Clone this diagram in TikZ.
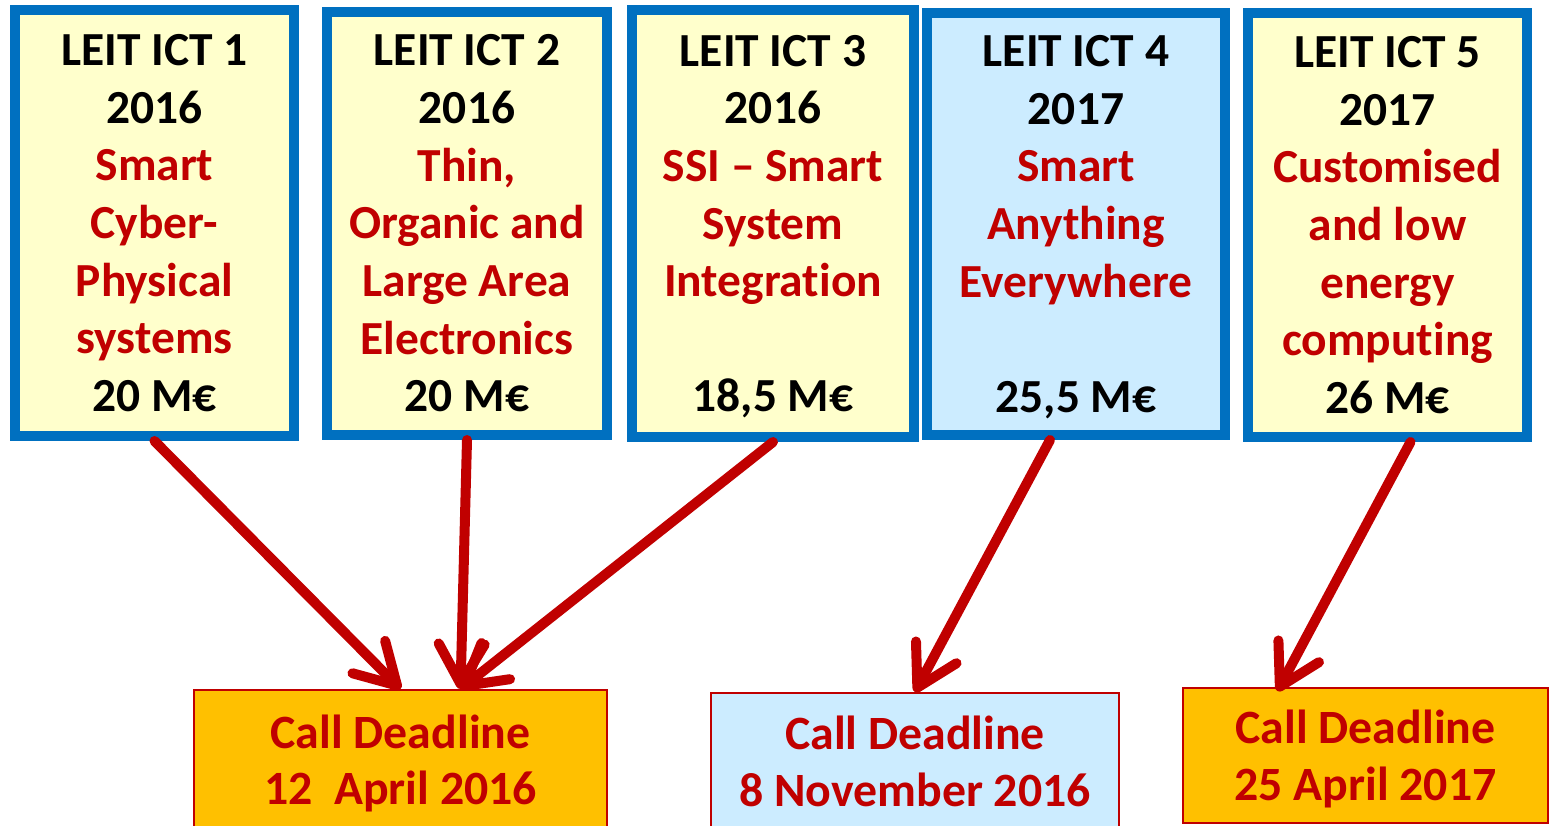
\documentclass[tikz,border=0pt]{standalone}
\usepackage{fontspec}
\setmainfont{Carlito}[Ligatures=NoCommon]
\usepackage{xcolor}
\usetikzlibrary{arrows.meta}

\definecolor{ictblue}{HTML}{0070C0}
\definecolor{ictred}{HTML}{C00000}
\definecolor{ictyellow}{HTML}{FFFFCC}
\definecolor{ictsky}{HTML}{CCECFF}
\definecolor{ictorange}{HTML}{FFC000}
\newcommand{\rd}[1]{\textcolor{ictred}{#1}}
\newcommand{\nodepth}[1]{\raisebox{0pt}[\height][0pt]{#1}}
\newcommand{\sink}[1]{\raisebox{-0.35mm}[\height][\depth]{#1}}

\begin{document}
\begin{tikzpicture}[x=1cm, y=-1cm,
    topic/.style={draw=ictblue, line width=1mm, fill=ictyellow, inner sep=0pt,
        align=center, font=\bfseries\fontsize{13.5}{16.4}\selectfont},
    deadline/.style={draw=ictred, line width=0.2mm, fill=ictorange, inner sep=0pt,
        align=center, text=ictred, font=\bfseries\fontsize{13.6}{16.2}\selectfont},
    callarrow/.style={draw=ictred, line width=1mm, line cap=round,
        -{Straight Barb[round, length=4mm, width=4.6mm]}}]
        \clip (0,0) rectangle (15.5,8.25);
        \useasboundingbox (0,0) rectangle (15.5,8.25);

        % work programme topics
        \node[topic, minimum width=2.79cm, minimum height=4.26cm] (t1) at (1.545,2.23)
            {LEIT ICT 1\\2016\\\rd{Smart}\\\rd{Cyber-}\\\rd{Physical}\\\rd{systems}\\20 M€};
        \node[topic, minimum width=2.80cm, minimum height=4.23cm] (t2) at (4.67,2.235)
            {LEIT ICT 2\\2016\\\rd{Thin,}\\\rd{Organic and}\\\rd{Large Area}\\\rd{Electronics}\\20 M€};
        \node[topic, minimum width=2.82cm, minimum height=4.27cm] (t3) at (7.73,2.235)
            {LEIT ICT 3\\2016\\\rd{SSI -- Smart}\\\rd{System}\\\rd{Integration}\\\mbox{}\\\nodepth{18,5 M€}};
        \node[topic, fill=ictsky, minimum width=2.98cm, minimum height=4.22cm] (t4) at (10.76,2.24)
            {LEIT ICT 4\\2017\\\rd{Smart}\\\rd{Anything}\\\rd{Everywhere}\\\mbox{}\\\nodepth{25,5 M€}};
        \node[topic, minimum width=2.79cm, minimum height=4.24cm] (t5) at (13.875,2.25)
            {LEIT ICT 5\\2017\\\rd{Customised}\\\rd{and low}\\\rd{energy}\\\rd{computing}\\26 M€};

        % deadlines
        \node[deadline, minimum width=4.13cm, minimum height=1.40cm] (d1) at (4.005,7.60)
            {\sink{Call Deadline}\\\sink{12\ \ April 2016}};
        \node[deadline, fill=ictsky, minimum width=4.08cm, minimum height=1.37cm] (d2) at (9.15,7.615)
            {Call Deadline\\8 November 2016};
        \node[deadline, minimum width=3.65cm, minimum height=1.35cm] (d3) at (13.655,7.555)
            {\sink{Call Deadline}\\\sink{25 April 2017}};

        \draw[callarrow] (t1.south) -- (d1.north);
        \draw[callarrow] (t2.south) -- ([xshift=6mm]d1.north);
        \draw[callarrow] (t3.south) -- ([xshift=6mm]d1.north);
        \draw[callarrow] ([xshift=-2.6mm]t4.south) -- (d2.north);
        \draw[callarrow] ([xshift=2.3mm]t5.south) -- ([xshift=-8.8mm,yshift=-0.4mm]d3.north);
    \end{tikzpicture}
\end{document}
